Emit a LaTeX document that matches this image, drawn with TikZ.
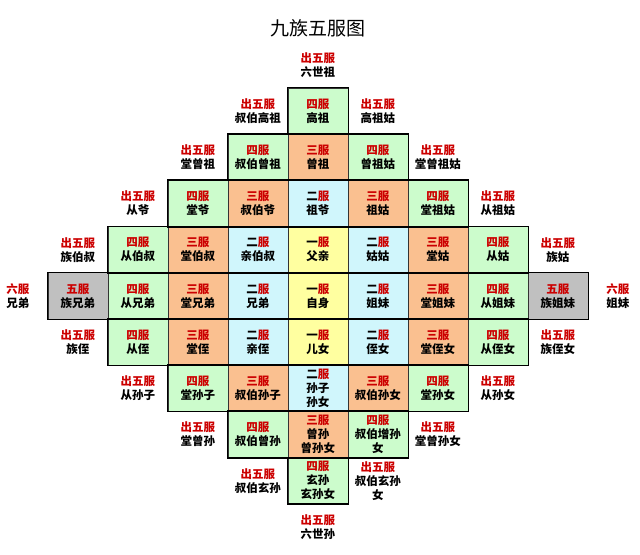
\documentclass[tikz,border=0pt]{standalone}
\usepackage{fontspec}
\setmainfont{Noto Sans CJK SC}
\usetikzlibrary{positioning}
\definecolor{fuRed}{RGB}{204, 0, 0}
\definecolor{fuGreen}{RGB}{204, 252, 204}
\definecolor{fuOrange}{RGB}{250, 192, 144}
\definecolor{fuBlue}{RGB}{208, 246, 252}
\definecolor{fuYellow}{RGB}{255, 255, 160}
\definecolor{fuGray}{RGB}{192, 192, 192}
\newcommand{\fu}[1]{\textcolor{fuRed}{#1}}
\tikzset{
  cell/.style={draw=black!80, line width=0.7pt, minimum width=60pt, minimum height=46.2pt,
    inner sep=0pt, align=center, font=\bfseries\fontsize{11.5}{14}\selectfont},
  four/.style={cell, fill=fuGreen},
  three/.style={cell, fill=fuOrange},
  two/.style={cell, fill=fuBlue},
  one/.style={cell, fill=fuYellow},
  five/.style={cell, fill=fuGray},
  outer/.style={align=center, inner sep=0pt, font=\bfseries\fontsize{11.5}{14}\selectfont},
  outline/.style={draw=black, line width=1.3pt}
}

\begin{document}
\begin{tikzpicture}[x=60pt, y=-46.2pt]
  \useasboundingbox (-5.3, -2.405) rectangle (5.367, 9.587);

  % Title
  \node[font=\fontsize{19}{21}\selectfont] (title) at (0, -1.8) {九族五服图};

  % Row 0: gaozu
  \node[outer] (xliushizu) at (0, -1) {\fu{出五服}\\六世祖};
  \node[four] (gaozu) at (0, 0) {\fu{四服}\\高祖};
  \node[outer] (xshubogaozu) at (-1, 0) {\fu{出五服}\\叔伯高祖};
  \node[outer] (xgaozugu) at (1, 0) {\fu{出五服}\\高祖姑};

  % Row 1: zengzu
  \node[four] (shubozengzu) at (-1, 1) {\fu{四服}\\叔伯曾祖};
  \node[three] (zengzu) at (0, 1) {\fu{三服}\\曾祖};
  \node[four] (zengzugu) at (1, 1) {\fu{四服}\\曾祖姑};
  \node[outer] (xtangzengzu) at (-2, 1) {\fu{出五服}\\堂曾祖};
  \node[outer] (xtangzengzugu) at (2, 1) {\fu{出五服}\\堂曾祖姑};

  % Row 2: zu
  \node[four] (tangye) at (-2, 2) {\fu{四服}\\堂爷};
  \node[three] (shuboye) at (-1, 2) {\fu{三服}\\叔伯爷};
  \node[two] (zuye) at (0, 2) {二\fu{服}\\祖爷};
  \node[three] (zugu) at (1, 2) {\fu{三服}\\祖姑};
  \node[four] (tangzugu) at (2, 2) {\fu{四服}\\堂祖姑};
  \node[outer] (xcongye) at (-3, 2) {\fu{出五服}\\从爷};
  \node[outer] (xcongzugu) at (3, 2) {\fu{出五服}\\从祖姑};

  % Row 3: fu
  \node[four] (congboshu) at (-3, 3) {\fu{四服}\\从伯叔};
  \node[three] (tangboshu) at (-2, 3) {\fu{三服}\\堂伯叔};
  \node[two] (qinboshu) at (-1, 3) {二\fu{服}\\亲伯叔};
  \node[one] (fuqin) at (0, 3) {一\fu{服}\\父亲};
  \node[two] (gugu) at (1, 3) {二\fu{服}\\姑姑};
  \node[three] (tanggu) at (2, 3) {\fu{三服}\\堂姑};
  \node[four] (conggu) at (3, 3) {\fu{四服}\\从姑};
  \node[outer] (xzuboshu) at (-4, 3) {\fu{出五服}\\族伯叔};
  \node[outer] (xzugu) at (4, 3) {\fu{出五服}\\族姑};

  % Row 4: self
  \node[five] (zuxiongdi) at (-4, 4) {\fu{五服}\\族兄弟};
  \node[four] (congxiongdi) at (-3, 4) {\fu{四服}\\从兄弟};
  \node[three] (tangxiongdi) at (-2, 4) {\fu{三服}\\堂兄弟};
  \node[two] (xiongdi) at (-1, 4) {二\fu{服}\\兄弟};
  \node[one] (zishen) at (0, 4) {一\fu{服}\\自身};
  \node[two] (jiemei) at (1, 4) {二\fu{服}\\姐妹};
  \node[three] (tangjiemei) at (2, 4) {\fu{三服}\\堂姐妹};
  \node[four] (congjiemei) at (3, 4) {\fu{四服}\\从姐妹};
  \node[five] (zujiemei) at (4, 4) {\fu{五服}\\族姐妹};
  \node[outer] (xliuxiongdi) at (-5, 4) {\fu{六服}\\兄弟};
  \node[outer] (xliujiemei) at (5, 4) {\fu{六服}\\姐妹};

  % Row 5: ernv
  \node[four] (congzhi) at (-3, 5) {\fu{四服}\\从侄};
  \node[three] (tangzhi) at (-2, 5) {\fu{三服}\\堂侄};
  \node[two] (qinzhi) at (-1, 5) {二\fu{服}\\亲侄};
  \node[one] (ernv) at (0, 5) {一\fu{服}\\儿女};
  \node[two] (zhinv) at (1, 5) {二\fu{服}\\侄女};
  \node[three] (tangzhinv) at (2, 5) {\fu{三服}\\堂侄女};
  \node[four] (congzhinv) at (3, 5) {\fu{四服}\\从侄女};
  \node[outer] (xzuzhi) at (-4, 5) {\fu{出五服}\\族侄};
  \node[outer] (xzuzhinv) at (4, 5) {\fu{出五服}\\族侄女};

  % Row 6: sun
  \node[four] (tangsunzi) at (-2, 6) {\fu{四服}\\堂孙子};
  \node[three] (shubosunzi) at (-1, 6) {\fu{三服}\\叔伯孙子};
  \node[two] (sun) at (0, 6) {二\fu{服}\\孙子\\孙女};
  \node[three] (shubosunnv) at (1, 6) {\fu{三服}\\叔伯孙女};
  \node[four] (tangsunnv) at (2, 6) {\fu{四服}\\堂孙女};
  \node[outer] (xcongsunzi) at (-3, 6) {\fu{出五服}\\从孙子};
  \node[outer] (xcongsunnv) at (3, 6) {\fu{出五服}\\从孙女};

  % Row 7: zengsun
  \node[four] (shubozengsun) at (-1, 7) {\fu{四服}\\叔伯曾孙};
  \node[three] (zengsun) at (0, 7) {\fu{三服}\\曾孙\\曾孙女};
  \node[four] (shubozengsunnv) at (1, 7) {\fu{四服}\\叔伯增孙\\女};
  \node[outer] (xtangzengsun) at (-2, 7) {\fu{出五服}\\堂曾孙};
  \node[outer] (xtangzengsunnv) at (2, 7) {\fu{出五服}\\堂曾孙女};

  % Row 8: xuansun
  \node[four] (xuansun) at (0, 8) {\fu{四服}\\玄孙\\玄孙女};
  \node[outer] (xshuboxuansun) at (-1, 8) {\fu{出五服}\\叔伯玄孙};
  \node[outer] (xshuboxuansunnv) at (1, 8) {\fu{出五服}\\叔伯玄孙\\女};
  \node[outer] (xliushisun) at (0, 9) {\fu{出五服}\\六世孙};

  % Outline of each generation
  \draw[outline] (gaozu.north west) rectangle (gaozu.south east);
  \draw[outline] (shubozengzu.north west) rectangle (zengzugu.south east);
  \draw[outline] (tangye.north west) rectangle (tangzugu.south east);
  \draw[outline] (congboshu.north west) rectangle (conggu.south east);
  \draw[outline] (zuxiongdi.north west) rectangle (zujiemei.south east);
  \draw[outline] (congzhi.north west) rectangle (congzhinv.south east);
  \draw[outline] (tangsunzi.north west) rectangle (tangsunnv.south east);
  \draw[outline] (shubozengsun.north west) rectangle (shubozengsunnv.south east);
  \draw[outline] (xuansun.north west) rectangle (xuansun.south east);
\end{tikzpicture}
\end{document}
